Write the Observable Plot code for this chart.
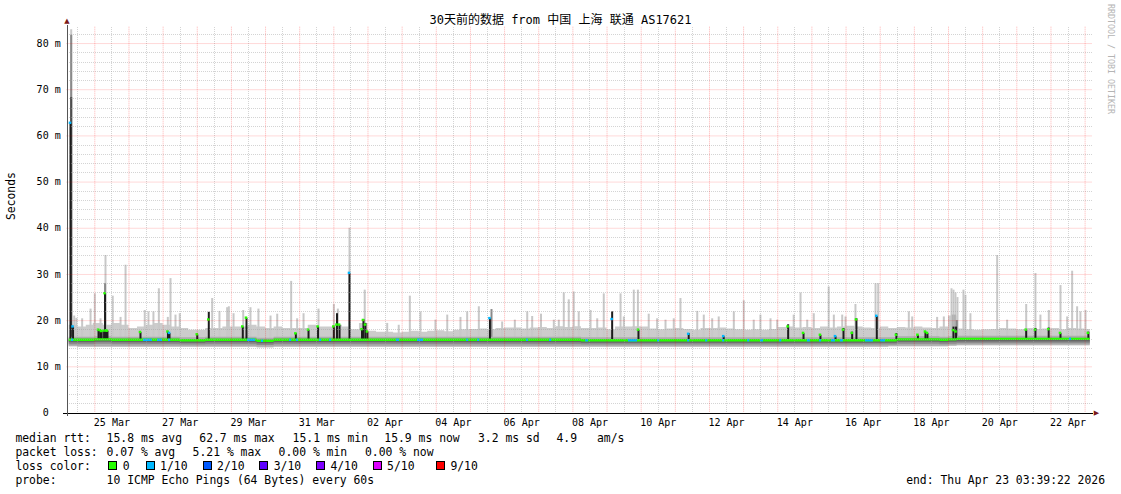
<!DOCTYPE html>
<html><head><meta charset="utf-8">
<script src="https://cdn.jsdelivr.net/npm/d3@7"></script>
<script src="https://cdn.jsdelivr.net/npm/@observablehq/plot@0.6"></script>
<style>
html,body{margin:0;padding:0;background:#fff;}
body{width:1121px;height:494px;overflow:hidden;position:relative;font-family:"DejaVu Sans Mono","Noto Sans CJK SC",monospace;color:#000;}
#title{position:relative;height:20px;z-index:2;}
#title span{position:absolute;left:0;width:1121px;text-align:center;top:13px;font-size:12px;line-height:15px;white-space:pre;}
#chart{position:relative;height:410px;}
#legend{position:relative;height:64px;font-size:11.4px;}
.it{position:absolute;white-space:pre;line-height:14px;}
.box{position:absolute;width:7px;height:7px;border:1px solid #000;}
#credit{position:absolute;left:1106px;top:4px;writing-mode:vertical-rl;font-size:8.3px;color:#b4b4b4;white-space:pre;z-index:3;}
</style>
</head><body>
<div id="title"><span>30天前的数据 from 中国 上海 联通 AS17621</span></div>
<div id="chart"></div>
<div id="legend"></div>
<div id="credit">RRDTOOL / TOBI OETIKER</div>
<script>
// ---------- data ----------
const seriesStart = Date.UTC(2026, 2, 24, 6, 0, 0); // first 6-hour bin
const binHours = 6;
const dataEndHours = 717.6;

// median rtt per 6h bin (ms)
const median = [
15.7,15.7,15.7,15.8,15.8,15.7,15.7,15.7,15.7,15.7,
15.7,15.7,15.7,15.6,15.6,15.6,15.7,15.7,15.7,15.7,
15.7,15.7,15.5,15.5,15.7,15.7,15.7,15.7,15.7,15.7,
15.7,15.7,15.7,15.7,15.7,15.7,15.7,15.7,15.7,15.7,
15.7,15.7,15.7,15.7,15.7,15.7,15.7,15.7,15.7,15.7,
15.7,15.7,15.7,15.7,15.7,15.7,15.7,15.7,15.7,15.7,
15.6,15.6,15.6,15.6,15.6,15.6,15.6,15.6,15.6,15.6,
15.6,15.6,15.6,15.6,15.6,15.6,15.6,15.6,15.6,15.6,
15.6,15.6,15.6,15.6,15.6,15.6,15.6,15.6,15.6,15.6,
15.6,15.6,15.6,15.6,15.6,15.6,15.6,15.8,15.8,15.8,
15.8,15.8,15.7,15.8,15.9,15.9,15.9,15.9,15.9,15.9,
15.9,15.9,15.9,15.9,15.9,15.9,15.9,15.9,15.9,15.9];

// top of the dense smoke per 6h bin (ms)
const smokeTop = [
19.0,18.6,19.0,19.4,19.0,19.4,19.0,18.3,18.6,19.0,
19.4,19.0,18.6,18.3,17.9,17.9,18.3,18.3,18.6,18.6,
18.6,19.0,18.6,18.3,18.6,18.3,18.3,18.3,19.0,18.6,
18.6,19.0,18.6,18.0,19.4,17.7,17.5,17.5,17.3,17.5,
17.7,17.5,17.7,17.8,17.6,17.9,18.0,18.1,18.2,18.0,
18.3,18.4,18.4,18.2,18.4,18.5,18.3,18.7,18.5,18.7,
18.3,18.3,18.4,18.0,18.6,18.6,18.7,18.6,18.2,18.0,
18.2,18.3,18.1,17.9,18.3,18.3,18.4,18.2,18.0,17.9,
18.0,17.9,18.1,18.5,18.6,18.4,18.5,18.3,18.6,18.4,
18.6,18.8,18.6,18.4,18.3,18.6,18.3,18.5,18.4,18.6,
18.4,18.3,18.6,21.0,18.2,18.0,17.9,18.0,18.1,18.3,
18.2,18.0,18.3,18.1,18.2,18.3,18.0,18.3,18.2,18.1];

// bottom of the smoke per 6h bin (ms)
const smokeBottom = [
14.3,14.2,14.2,14.2,14.2,14.2,14.2,14.2,14.2,14.2,
14.2,14.2,14.2,14.2,14.2,14.2,14.2,14.2,14.2,14.2,
14.2,14.2,14.1,14.1,14.2,14.2,14.2,14.2,14.2,14.2,
14.2,14.2,14.2,14.2,14.2,14.2,14.2,14.2,14.2,14.2,
14.2,14.2,14.2,14.2,14.2,14.2,14.2,14.2,14.2,14.2,
14.2,14.2,14.2,14.2,14.2,14.2,14.2,14.2,14.2,14.2,
14.2,14.2,14.2,14.2,14.2,14.2,14.2,14.2,14.2,14.2,
14.2,14.2,14.2,14.2,14.2,14.2,14.2,14.2,14.2,14.2,
14.2,14.2,14.2,14.2,14.2,14.2,14.2,14.2,14.2,14.2,
14.2,14.2,14.2,14.2,14.2,14.2,14.3,14.3,14.3,14.3,
14.3,14.3,14.3,14.4,14.5,14.5,14.5,14.5,14.5,14.5,
14.5,14.5,14.5,14.5,14.5,14.5,14.5,14.5,14.5,14.5];

// thin high pings: [hours from series start, max ms]
const lightSpikes = [
[1.4,83.0],[3.5,21.0],[5.0,20.5],[9.1,20.4],[15.0,22.5],[17.3,19.4],[18.0,25.8],[22.0,20.4],[25.5,34.1],[30.6,25.3],
[36.1,20.7],[39.6,32.0],[53.1,22.2],[55.7,21.9],[59.2,21.9],[63.0,26.9],[69.3,20.7],[71.2,29.1],[74.7,21.2],[77.7,21.5],
[100.5,24.8],[105.6,22.0],[111.0,22.8],[112.2,23.0],[115.5,21.5],[122.3,22.2],[127.4,22.8],[133.0,22.5],[141.5,21.0],[146.2,21.4],
[156.0,28.5],[160.2,20.4],[164.7,21.5],[175.2,22.5],[186.0,23.5],[188.8,22.5],[197.0,40.0],[207.7,26.6],[223.5,19.4],[231.6,19.0],
[239.4,25.3],[246.9,21.9],[257.4,20.1],[265.7,21.2],[275.0,20.7],[279.7,21.9],[287.9,23.0],[304.3,19.7],[313.2,20.1],[321.9,21.9],
[325.4,20.9],[331.6,21.4],[340.6,20.1],[344.1,20.1],[347.6,26.0],[351.1,24.5],[354.6,26.2],[358.1,21.9],[366.4,22.2],[371.1,20.4],
[375.7,25.8],[387.5,25.8],[389.8,20.8],[396.8,26.6],[399.7,26.6],[407.3,21.4],[413.2,20.4],[419.1,20.1],[424.9,20.4],[429.6,24.8],
[441.4,22.0],[446.0,21.2],[451.9,20.4],[456.5,20.8],[467.1,21.9],[474.1,24.3],[481.1,20.1],[485.8,21.2],[492.9,20.4],[497.6,20.1],
[509.2,21.2],[514.0,26.0],[518.7,20.1],[523.3,21.5],[533.8,27.3],[537.4,21.2],[543.3,21.2],[545.6,20.8],[552.6,23.5],[566.7,28.0],
[568.6,28.0],[590.1,21.9],[592.5,20.8],[610.0,20.7],[614.7,20.8],[620.1,26.9],[621.5,26.6],[622.9,26.0],[624.3,25.0],[628.5,26.6],
[629.9,25.5],[633.4,21.5],[652.2,34.1],[659.2,20.1],[672.6,23.5],[679.1,30.2],[682.6,21.2],[688.5,22.2],[696.7,27.6],[701.4,20.8],
[704.9,30.7],[708.4,23.0],[710.7,21.9],[714.3,22.2]];

// denser smoke columns: [hours, top ms, density 1..3]
const graySpikes = [[1.4,81.8,2],[1.4,68.3,3],[25.2,28.0,2],[296.8,22.4,2],[621.0,21.2,1],[622.5,21.2,1],[623.8,20.0,2]];

// all pings high: [hours, top ms, median ms, lost pings]
const blackSpikes = [
[0.9,62.7,62.7,1],[2.7,18.6,18.6,1],[20.6,17.9,17.9,0],[21.8,17.8,17.8,0],[22.8,17.6,17.6,0],[24.5,17.7,17.7,0],[25.2,25.9,25.8,0],
[26.2,17.7,17.7,0],[26.9,17.7,17.7,0],[50.1,17.4,17.4,0],[69.4,17.5,17.5,0],[70.5,17.2,17.2,1],[90.0,16.9,16.9,0],[98.1,21.8,20.1,0],
[122.0,18.6,18.6,0],[124.6,20.5,20.5,0],[159.3,17.2,17.1,0],[168.2,17.9,17.9,0],[174.9,18.6,18.6,0],[186.0,18.6,18.6,0],[188.2,21.5,19.0,0],
[190.0,19.0,19.0,0],[197.0,30.2,30.2,1],[205.8,18.0,18.0,0],[206.8,20.2,20.0,0],[208.2,19.4,19.0,0],[209.6,17.5,17.5,0],[295.7,20.4,20.4,1],
[381.6,21.9,20.2,1],[400.1,17.9,17.9,0],[435.4,17.2,17.0,1],[460.0,16.5,16.5,1],[505.3,19.1,18.6,0],[516.1,17.2,17.2,0],[528.0,16.8,16.8,0],
[538.6,16.5,16.5,1],[544.2,18.3,17.9,0],[550.3,17.5,17.2,0],[553.3,20.4,20.1,0],[567.6,20.9,20.9,1],[581.4,17.2,16.8,0],[596.5,16.8,16.8,0],
[601.8,17.5,17.5,0],[603.2,17.2,17.2,0],[621.5,18.6,17.8,0],[623.3,18.6,17.5,0],[672.6,17.9,17.9,0],[679.1,18.3,17.9,0],[688.4,18.4,18.0,0],
[696.7,17.2,17.2,0],[716.3,17.5,17.2,0]];

// packet loss periods: [hours, duration hours, lost pings]
const lossEvents = [
[1.6,1.5,1],[52.2,6.3,1],[62.1,3.5,1],[69.8,1.5,1],[125.3,5.6,1],[135.1,1.5,1],[154.8,1.5,1],[159.7,1.5,1],[175.9,1.5,1],[182.9,1.5,1],
[230.0,2.1,1],[244.8,4.2,1],[279.3,1.5,1],[287.0,1.5,1],[321.4,1.5,1],[337.6,1.5,1],[363.0,2.1,1],[393.1,6.3,1],[413.5,1.5,1],[434.6,1.5,1],
[447.3,1.5,1],[459.2,1.5,1],[476.8,1.5,1],[485.9,2.1,1],[499.3,1.5,1],[518.8,2.1,1],[527.3,1.5,1],[535.7,2.8,1],[542.0,2.1,1],[559.6,5.6,1],
[570.2,3.5,1],[703.0,1.5,1]];

const lossLabels = ["0","1/10","2/10","3/10","4/10","5/10","9/10"];
const lossColors = ["#26ff00","#00b8ff","#0059ff","#5e00ff","#7e00ff","#dd00ff","#ff0000"];

const yTicks = [0,10,20,30,40,50,60,70,80];
const xTickDays = ["2026-03-25","2026-03-27","2026-03-29","2026-03-31","2026-04-02","2026-04-04","2026-04-06","2026-04-08",
  "2026-04-10","2026-04-12","2026-04-14","2026-04-16","2026-04-18","2026-04-20","2026-04-22"];

const rttStats = ["15.8 ms avg","62.7 ms max","15.1 ms min","15.9 ms now","3.2 ms sd","4.9","am/s"];
const lossStats = ["0.07 % avg","5.21 % max","0.00 % min","0.00 % now"];
const probeText = "10 ICMP Echo Pings (64 Bytes) every 60s";
const endText = "end: Thu Apr 23 03:39:22 2026";

// ---------- chart ----------
const HOUR = 36e5;
const T = h => new Date(seriesStart + h * HOUR);
const viewStart = -1.55, viewEnd = 719.2;
const medAt = h => median[Math.max(0, Math.min(median.length - 1, Math.floor(h / binHours)))];
const bins = median.map((m, i) => ({t: T(i * binHours), m, top: smokeTop[i], bot: smokeBottom[i]}));
bins.push({...bins[bins.length - 1], t: T(dataEndHours)});
const shade = {1: "#b2b2b2", 2: "#8a8a8a", 3: "#4e4e4e"};

const midnights = d3.utcDay.range(new Date(Date.UTC(2026,2,25)), new Date(Date.UTC(2026,3,23,1)));
const noons = d3.utcDay.range(new Date(Date.UTC(2026,2,24)), new Date(Date.UTC(2026,3,23))).map(d => new Date(+d + 12*HOUR));
const labelDates = xTickDays.map(s => new Date(Date.parse(s + "T12:00:00Z")));
const minorY = d3.range(2, 84, 2).filter(v => v % 10 !== 0);
const majorY = yTicks.filter(v => v > 0);
const fmtDay = d3.utcFormat("%d %b");
const step = {curve: "step-after"};
const gridMinor = {stroke: "#a0a0a0", strokeOpacity: 0.45, strokeDasharray: "1,1", shapeRendering: "crispEdges"};
const gridMajor = {stroke: "#ff0000", strokeOpacity: 0.3, strokeDasharray: "1,1"};

const chart = Plot.plot({
  width: 1121, height: 410,
  marginLeft: 66.5, marginRight: 29, marginTop: 6.7, marginBottom: 17.5,
  x: {type: "utc", domain: [T(viewStart), T(viewEnd)], axis: null},
  y: {domain: [0, 83.54], axis: null},
  color: {type: "identity"},
  style: {fontFamily: "'DejaVu Sans Mono', monospace", fontSize: "10px", background: "#fff", overflow: "visible"},
  marks: [
    Plot.areaY(bins, {x: "t", y1: "bot", y2: "top", fill: "#cccccc", ...step}),
    Plot.ruleX(lightSpikes, {x: d => T(d[0]), y1: d => medAt(d[0]), y2: d => d[1], stroke: "#c8c8c8", strokeWidth: 2}),
    Plot.ruleX(graySpikes, {x: d => T(d[0]), y1: d => medAt(d[0]), y2: d => d[1], stroke: d => shade[d[2]], strokeWidth: 2}),
    Plot.areaY(bins, {x: "t", y1: d => d.bot + 0.15, y2: d => d.m + 0.7, fill: "#acacac", ...step}),
    Plot.areaY(bins, {x: "t", y1: d => d.m - 0.9, y2: d => d.m + 0.3, fill: "#8c8c8c", ...step}),
    Plot.areaY(bins, {x: "t", y1: d => d.m - 0.5, y2: d => d.m, fill: "#666666", ...step}),
    Plot.ruleX(blackSpikes, {x: d => T(d[0]), y1: d => medAt(d[0]), y2: d => d[1], stroke: "#1c1c1c", strokeWidth: 2}),
    Plot.areaY(bins, {x: "t", y1: d => d.m - 0.22, y2: d => d.m + 0.3, fill: lossColors[0], ...step}),
    Plot.rect(lossEvents, {x1: d => T(d[0]), x2: d => T(d[0] + d[1]), y1: d => medAt(d[0]) - 0.22, y2: d => medAt(d[0]) + 0.3, fill: d => lossColors[d[2]]}),
    Plot.rect(blackSpikes, {x1: d => T(d[0] - 0.9), x2: d => T(d[0] + 0.9), y1: d => d[2] - 0.22, y2: d => d[2] + 0.3, fill: d => lossColors[d[3]]}),
    // grid (drawn on top, as rrdtool does)
    Plot.ruleY(minorY, gridMinor),
    Plot.ruleX(noons, gridMinor),
    Plot.ruleY(majorY, gridMajor),
    Plot.ruleX(midnights, gridMajor),
    // axes
    Plot.ruleY([0], {x1: T(-4.2), x2: T(720.2), stroke: "#000", shapeRendering: "crispEdges"}),
    Plot.ruleX([T(viewStart)], {y1: -0.8, y2: 84.0, stroke: "#555", shapeRendering: "crispEdges"}),
    Plot.text([0], {x: T(viewStart), y: 84.9, text: () => "\u25B2", fill: "#7a1a1a", fontSize: 7, fontFamily: "DejaVu Sans"}),
    Plot.text([0], {x: T(720.0), y: 0, text: () => "\u25B6", fill: "#7a1a1a", fontSize: 7, textAnchor: "start", fontFamily: "DejaVu Sans"}),
    Plot.text(labelDates, {x: d => d, frameAnchor: "bottom", lineAnchor: "top", dy: 5.5, text: d => fmtDay(d), fill: "#000"}),
    Plot.text(yTicks, {x: T(viewStart), y: d => d, text: d => d === 0 ? "0\u00a0\u00a0" : d + "\u00a0m", textAnchor: "end", dx: -6.3, fill: "#000"}),
    Plot.text(["Seconds"], {frameAnchor: "left", dx: -56, rotate: -90, text: d => d, fontSize: 11.4, fill: "#000"})
  ]
});
document.getElementById("chart").appendChild(chart);

// ---------- legend (below the svg) ----------
const lg = document.getElementById("legend");
function item(text, left, top) {
  const s = document.createElement("span");
  s.className = "it"; s.textContent = text;
  s.style.left = left + "px"; s.style.top = top + "px";
  lg.appendChild(s); return s;
}
const rows = [1.3, 15.3, 29, 43.3];
item("median rtt:", 15.4, rows[0]);
[106.6, 199.3, 292.6, 384.3, 478.0, 556.5, 597.0].forEach((x, i) => item(rttStats[i], x, rows[0]));
item("packet loss:", 15.4, rows[1]);
[106.6, 192.6, 278.6, 365.0].forEach((x, i) => item(lossStats[i], x, rows[1]));
item("loss color:", 15.4, rows[2]);
[108.3, 145.7, 202.7, 259.3, 316.0, 372.7, 436.0].forEach((x, i) => {
  const b = document.createElement("div");
  b.className = "box"; b.style.left = x + "px"; b.style.top = "31px"; b.style.background = lossColors[i];
  lg.appendChild(b);
  item(lossLabels[i], x + 14.4, rows[2]);
});
item("probe:", 15.4, rows[3]);
item(probeText, 106.6, rows[3]);
const e = item(endText, 0, rows[3]); e.style.left = "auto"; e.style.right = "16px";
</script>
</body></html>
